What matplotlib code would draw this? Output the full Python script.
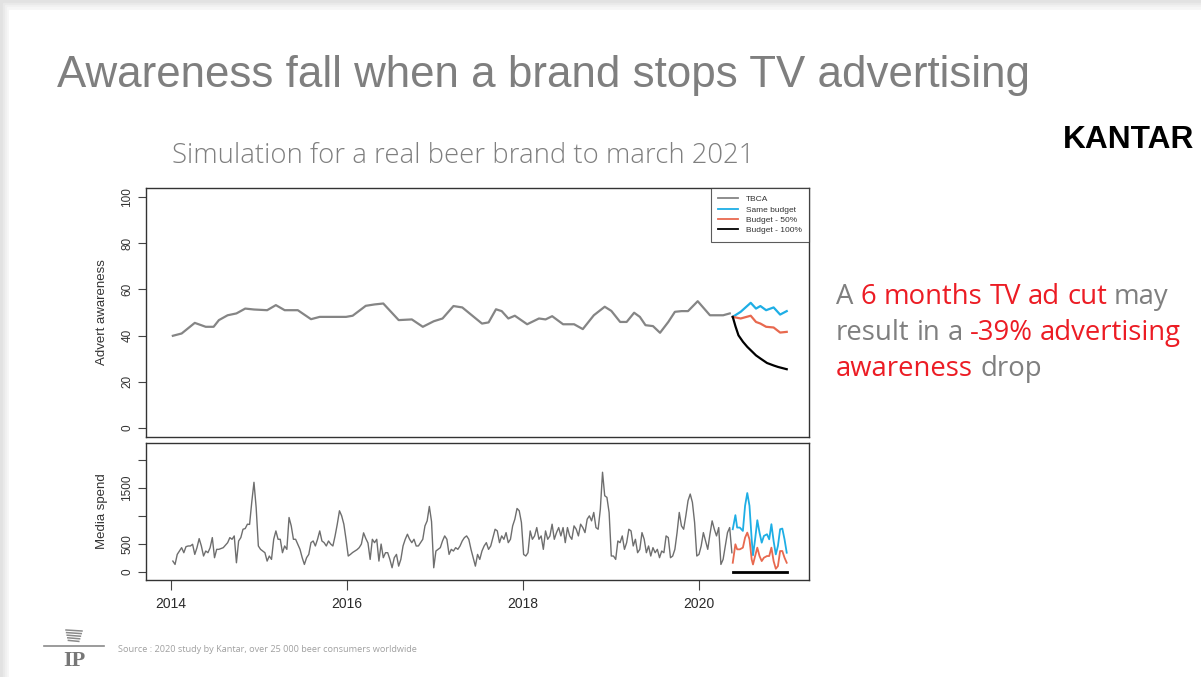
import numpy as np
import matplotlib
matplotlib.use("Agg")
import matplotlib.pyplot as plt
from matplotlib.patches import Rectangle
from matplotlib.lines import Line2D

# Advert awareness (TBCA), decimal years
aw_t = [2014.025, 2014.125, 2014.274, 2014.398, 2014.488, 2014.548, 2014.647, 2014.747, 2014.847, 2014.946,
        2015.096, 2015.195, 2015.295, 2015.444, 2015.594, 2015.693, 2015.992, 2016.067, 2016.216, 2016.316,
        2016.415, 2016.590, 2016.739, 2016.864, 2016.988, 2017.088, 2017.212, 2017.312, 2017.536, 2017.611,
        2017.695, 2017.760, 2017.835, 2017.909, 2018.049, 2018.183, 2018.258, 2018.333, 2018.457, 2018.582,
        2018.681, 2018.806, 2018.930, 2019.005, 2019.105, 2019.179, 2019.264, 2019.329, 2019.393, 2019.478,
        2019.558, 2019.652, 2019.727, 2019.802, 2019.876, 2019.986, 2020.125, 2020.275, 2020.350]
aw = [39.9, 40.9, 45.5, 43.8, 43.8, 46.7, 48.8, 49.6, 51.7, 51.3,
      51.0, 53.2, 51.0, 51.0, 47.1, 48.1, 48.1, 48.6, 52.9, 53.5,
      53.9, 46.7, 47.0, 43.8, 46.2, 47.4, 52.8, 52.2, 45.2, 45.7,
      51.4, 50.6, 47.4, 48.6, 44.9, 47.4, 47.0, 48.4, 44.9, 44.9,
      42.8, 48.8, 52.5, 50.7, 45.9, 45.9, 49.9, 48.1, 44.5, 44.1,
      41.2, 45.9, 50.3, 50.6, 50.6, 54.9, 48.8, 48.8, 49.6]

# simulated awareness after mid 2020
fc_aw_t = [2020.384, 2020.474, 2020.588, 2020.648, 2020.698, 2020.763, 2020.848, 2020.922, 2020.997]
aw_same = [48.1, 50.3, 54.2, 51.7, 52.8, 51.0, 52.2, 49.1, 50.6]
aw_half = [48.1, 47.4, 48.6, 45.9, 45.2, 43.8, 43.5, 41.3, 41.6]
stop_t = [2020.384, 2020.415, 2020.449, 2020.500, 2020.549, 2020.600, 2020.648, 2020.700, 2020.773, 2020.850, 2020.897, 2020.997]
aw_stop = [48.1, 44.0, 40.1, 37.3, 35.1, 33.2, 31.4, 30.0, 28.1, 27.0, 26.4, 25.4]

# weekly media spend, 2014 to mid 2020
spend = [197, 137, 316, 376, 436, 346, 454, 466, 466, 496,
         316, 436, 597, 466, 287, 376, 346, 436, 615, 257,
         406, 406, 420, 436, 480, 525, 615, 585, 645, 167,
         555, 615, 764, 776, 854, 850, 1250, 1600, 1150, 466,
         406, 376, 346, 197, 287, 227, 585, 734, 585, 585,
         346, 466, 406, 973, 824, 585, 585, 496, 406, 257,
         137, 257, 316, 525, 555, 466, 585, 734, 555, 525,
         466, 555, 500, 466, 645, 854, 1093, 1003, 854, 585,
         287, 316, 350, 376, 400, 436, 500, 700, 600, 520,
         227, 585, 525, 585, 197, 500, 257, 346, 346, 227,
         78, 257, 316, 107, 227, 466, 585, 675, 585, 525,
         585, 466, 466, 525, 585, 824, 913, 1170, 900, 78,
         376, 406, 436, 555, 645, 585, 316, 406, 376, 436,
         406, 466, 555, 615, 645, 585, 406, 257, 107, 316,
         227, 376, 466, 525, 406, 466, 615, 764, 734, 525,
         645, 585, 704, 525, 585, 824, 943, 1134, 1093, 884,
         316, 287, 346, 734, 585, 645, 794, 585, 645, 406,
         734, 585, 645, 854, 585, 704, 794, 645, 794, 525,
         794, 645, 585, 824, 764, 645, 854, 794, 704, 943,
         1003, 913, 1063, 794, 764, 1122, 1779, 1361, 1331, 1063,
         287, 287, 227, 555, 525, 645, 406, 525, 764, 734,
         466, 585, 346, 406, 704, 585, 346, 466, 287, 436,
         346, 406, 257, 376, 346, 645, 615, 257, 287, 406,
         704, 1063, 824, 764, 1003, 1272, 1391, 1242, 884, 287,
         316, 466, 704, 555, 406, 675, 913, 764, 645, 794,
         137, 227, 466, 704, 794, 346]
spend_t = np.linspace(2014.025, 2020.374, len(spend))

# simulated spend scenarios
fc_t = [2020.384, 2020.414, 2020.434, 2020.464, 2020.499, 2020.524, 2020.549, 2020.574, 2020.599, 2020.614,
        2020.638, 2020.663, 2020.688, 2020.713, 2020.738, 2020.773, 2020.798, 2020.823, 2020.848, 2020.873,
        2020.897, 2020.922, 2020.947, 2020.972, 2020.997]
spend_same = [764, 1015, 794, 794, 734, 1182, 1409, 1182, 585, 299,
              585, 925, 704, 525, 645, 675, 585, 854, 555, 316,
              466, 764, 776, 585, 346]
spend_half = [167, 496, 406, 406, 436, 615, 704, 585, 227, 137,
              287, 436, 287, 197, 257, 287, 287, 436, 197, 60,
              107, 376, 376, 257, 167]
stop_spend_t = [2020.384, 2020.997]
spend_stop = [0, 0]

GRAY = "#858585"
BLUE = "#1eaee5"
RED = "#e8694f"
TXT_GRAY = "#7f7f7f"
TXT_RED = "#ec1c24"
AX_FONT = "Liberation Sans"

fig = plt.figure(figsize=(12.01, 6.77), dpi=100)
fig.patch.set_facecolor("#e2e2e2")

# slide shadow at top and left edge, then the white slide
for i, c in enumerate(["#e9e9e9", "#f0f0f0", "#f6f6f6"]):
    fig.patches.append(Rectangle(((3 + 2 * i) / 1201, 0), 1, 1 - (3 + 2 * i) / 677,
                                 transform=fig.transFigure, color=c, zorder=-10 + i))
fig.patches.append(Rectangle((9 / 1201, 0), 1, 1 - 10 / 677,
                             transform=fig.transFigure, color="white", zorder=-5))

ax1 = fig.add_axes([146 / 1201, 1 - 437 / 677, 663 / 1201, 249 / 677])
ax2 = fig.add_axes([146 / 1201, 1 - 580 / 677, 663 / 1201, 137 / 677])

ax1.plot(aw_t, aw, color=GRAY, lw=1.6)
ax1.plot(fc_aw_t, aw_same, color=BLUE, lw=1.6)
ax1.plot(fc_aw_t, aw_half, color=RED, lw=1.6)
ax1.plot(stop_t, aw_stop, color="black", lw=1.6)

ax2.plot(spend_t, spend, color="#6e6e6e", lw=1.0)
ax2.plot(fc_t, spend_same, color=BLUE, lw=1.3)
ax2.plot(fc_t, spend_half, color=RED, lw=1.3)
ax2.plot(stop_spend_t, spend_stop, color="black", lw=2.0)

for ax in (ax1, ax2):
    ax.set_xlim(2013.72, 2021.25)
    for s in ax.spines.values():
        s.set_color("#333333")
        s.set_linewidth(1.0)
    ax.tick_params(axis="y", length=6, width=0.8, color="#444444", labelsize=8.5,
                   labelcolor="#333333", pad=3)

ax1.set_ylim(-4, 104)
ax1.set_yticks([0, 20, 40, 60, 80, 100])
ax1.set_yticklabels(["0", "20", "40", "60", "80", "100"], rotation=90, va="center",
                    family=AX_FONT)
ax1.set_xticks([])

ax2.set_ylim(-140, 2300)
ax2.set_yticks([0, 500, 1000, 1500, 2000])
ax2.set_yticklabels(["0", "500", "", "1500", ""], rotation=90, va="center", family=AX_FONT)
ax2.set_xticks([2014, 2016, 2018, 2020])
ax2.set_xticklabels(["2014", "2016", "2018", "2020"], fontsize=10, color="#2a2a2a",
                    family=AX_FONT)
ax2.tick_params(axis="x", length=7, width=0.8, color="#444444", pad=5)

ax1.set_ylabel("Advert awareness", fontsize=9.5, color="#333333", family=AX_FONT)
ax2.set_ylabel("Media spend", fontsize=9.5, color="#333333", family=AX_FONT)
ax1.yaxis.set_label_coords(-0.058, 0.5)
ax2.yaxis.set_label_coords(-0.058, 0.5)

handles = [Line2D([], [], color=GRAY, lw=1.3), Line2D([], [], color=BLUE, lw=1.3),
           Line2D([], [], color=RED, lw=1.3), Line2D([], [], color="black", lw=1.3)]
leg = ax1.legend(handles, ["TBCA", "Same budget", "Budget - 50%", "Budget - 100%"],
                 loc="upper right", prop={"family": AX_FONT, "size": 6},
                 frameon=True, fancybox=False, borderaxespad=0, handlelength=2.4,
                 labelspacing=0.3, borderpad=0.9, handletextpad=0.9)
leg.get_frame().set_edgecolor("#333333")
leg.get_frame().set_linewidth(0.8)
for t in leg.get_texts():
    t.set_color("#333333")

# headings
fig.text(57 / 1201, 1 - 76 / 677, "Awareness fall when a brand stops TV advertising",
         fontsize=31.6, color=TXT_GRAY, family="Liberation Sans", va="center")
fig.text(172 / 1201, 1 - 156 / 677, "Simulation for a real beer brand to march 2021",
         fontsize=19.8, color=TXT_GRAY, family="Open Sans", fontweight="light", va="center")
fig.text(1063 / 1201, 1 - 140 / 677, "KANTAR", fontsize=22.8, color="black",
         family="Liberation Sans", fontweight="bold", va="center")

# call-out text with red highlights
renderer = fig.canvas.get_renderer()


def text_width(s, size):
    t = fig.text(0, 0, s, fontsize=size, family="Open Sans")
    w = t.get_window_extent(renderer).width
    t.remove()
    return w


def colored_line(x_px, y_px, parts, size=19.8):
    space = text_width("a a", size) - text_width("aa", size)
    x = x_px
    for word, color in parts:
        t = fig.text(x / 1201, 1 - y_px / 677, word, fontsize=size, color=color,
                     family="Open Sans", va="center")
        x += t.get_window_extent(renderer).width + space


colored_line(836, 297, [("A", TXT_GRAY), ("6", TXT_RED), ("months", TXT_RED), ("TV", TXT_RED),
                        ("ad", TXT_RED), ("cut", TXT_RED), ("may", TXT_GRAY)])
colored_line(836, 333, [("result", TXT_GRAY), ("in", TXT_GRAY), ("a", TXT_GRAY),
                        ("-39%", TXT_RED), ("advertising", TXT_RED)])
colored_line(836, 369, [("awareness", TXT_RED), ("drop", TXT_GRAY)])

# footer: IP mark and source
fig.add_artist(Line2D([44 / 1201, 104 / 1201], [1 - 646 / 677, 1 - 646 / 677],
                      color="#8a8a8a", lw=1.2, transform=fig.transFigure))
for k in range(5):
    y = 1 - (630 + 2.6 * k) / 677
    fig.add_artist(Line2D([(66 + k * 0.6) / 1201, (82 - k * 0.8) / 1201], [y, y - 1 / 677],
                          color="#8a8a8a", lw=1.1, transform=fig.transFigure))
fig.text(74 / 1201, 1 - 661 / 677, "IP", fontsize=16, color="#777777",
         family="Liberation Serif", fontweight="bold", ha="center", va="center")
fig.text(118 / 1201, 1 - 650 / 677,
         "Source : 2020 study by Kantar, over 25 000 beer consumers worldwide",
         fontsize=6.6, color="#a0a0a0", family="Open Sans", va="center")

fig.savefig("out.png", dpi=100)
